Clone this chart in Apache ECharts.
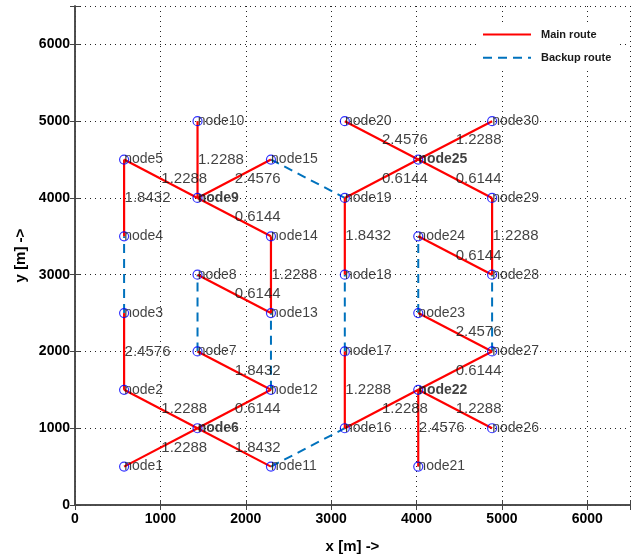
<!DOCTYPE html>
<html>
<head>
<meta charset="utf-8">
<script src="https://cdn.jsdelivr.net/npm/echarts@6/dist/echarts.min.js"></script>
<style>
  html, body { margin: 0; padding: 0; background: #fff; }
  #chart { width: 636px; height: 559px; }
</style>
</head>
<body>
<div id="chart"></div>
<script>
// node positions [m]
const nodeNames = [
    "node1", "node2", "node3", "node4", "node5",
    "node6", "node7", "node8", "node9", "node10",
    "node11", "node12", "node13", "node14", "node15",
    "node16", "node17", "node18", "node19", "node20",
    "node21", "node22", "node23", "node24", "node25",
    "node26", "node27", "node28", "node29", "node30"
];
const nodeX = [
    575, 575, 575, 575, 575,
    1435, 1435, 1435, 1435, 1435,
    2295, 2295, 2295, 2295, 2295,
    3160, 3160, 3160, 3160, 3160,
    4020, 4020, 4020, 4020, 4020,
    4885, 4885, 4885, 4885, 4885
];
const nodeY = [
    500, 1500, 2500, 3500, 4500,
    1000, 2000, 3000, 4000, 5000,
    500, 1500, 2500, 3500, 4500,
    1000, 2000, 3000, 4000, 5000,
    500, 1500, 2500, 3500, 4500,
    1000, 2000, 3000, 4000, 5000
];
const boldNodes = ["node6", "node9", "node22", "node25"];

// main route edges (node numbers) and their weights
const mainFrom = [1, 6, 2, 6, 2, 4, 5, 9, 9, 9, 14, 8, 7, 16, 18, 19, 20, 25, 25, 29, 24, 23, 27, 22, 22, 22];
const mainTo = [6, 12, 6, 11, 3, 5, 9, 10, 15, 14, 13, 13, 12, 17, 19, 25, 25, 30, 29, 28, 28, 27, 22, 16, 21, 26];
const mainWeight = [
    "1.2288", "0.6144", "1.2288", "1.8432", "2.4576", "1.8432", "1.2288", "1.2288", "2.4576", "0.6144",
    "1.2288", "0.6144", "1.8432", "1.2288", "1.8432", "0.6144", "2.4576", "1.2288", "0.6144", "1.2288",
    "0.6144", "2.4576", "0.6144", "1.2288", "2.4576", "1.2288"
];

// backup route edges
const backupFrom = [3, 7, 12, 11, 15, 17, 23, 27];
const backupTo = [4, 8, 13, 16, 19, 18, 24, 28];

const xTicks = [0, 1000, 2000, 3000, 4000, 5000, 6000];

const pt = (n) => [nodeX[n - 1], nodeY[n - 1]];

const chart = echarts.init(document.getElementById("chart"));

let series = [];
// backup route segments
backupFrom.forEach((a, i) => {
    series.push({
        name: "Backup route",
        type: "line",
        data: [pt(a), pt(backupTo[i])],
        symbol: "none",
        z: 2,
        lineStyle: { color: "#0072bd", width: 2, type: [9, 6] },
        itemStyle: { color: "#0072bd" }
    });
});
// main route segments
mainFrom.forEach((a, i) => {
    series.push({
        name: "Main route",
        type: "line",
        data: [pt(a), pt(mainTo[i])],
        symbol: "none",
        z: 3,
        lineStyle: { color: "#ff0000", width: 2.2 },
        itemStyle: { color: "#ff0000" }
    });
});
// weight labels at edge midpoints
series.push({
    type: "scatter",
    z: 5,
    symbolSize: 1,
    itemStyle: { color: "rgba(0,0,0,0)" },
    silent: true,
    data: mainFrom.map((a, i) => {
        const p = pt(a), q = pt(mainTo[i]);
        return { value: [(p[0] + q[0]) / 2, (p[1] + q[1]) / 2], w: mainWeight[i] };
    }),
    label: {
        show: true,
        position: "right",
        distance: 0,
        formatter: (d) => d.data.w,
        color: "#111",
        fontFamily: "Liberation Sans, Arial, sans-serif",
        fontSize: 15
    }
});
// nodes
series.push({
    type: "scatter",
    z: 6,
    symbol: "circle",
    symbolSize: 9,
    itemStyle: { color: "rgba(0,0,0,0)", borderColor: "#0000ff", borderWidth: 1.2 },
    data: nodeNames.map((n, i) => ({
        value: [nodeX[i], nodeY[i]],
        name: n,
        label: boldNodes.includes(n) ? { fontWeight: "bold" } : {}
    })),
    label: {
        show: true,
        position: "right",
        distance: -5,
        formatter: "{b}",
        color: "#111",
        fontFamily: "Liberation Sans, Arial, sans-serif",
        fontSize: 14
    }
});

const boxAxis = { show: true, lineStyle: { color: "#444", width: 1.5 } };
const tickFont = {
    color: "#000",
    fontWeight: "bold",
    fontFamily: "Liberation Sans, Arial, sans-serif",
    fontSize: 14
};
const nameFont = Object.assign({}, tickFont, { fontSize: 15 });

const option = {
    animation: false,
    grid: { left: 75, right: 6, top: 6, bottom: 47 },
    legend: {
        data: ["Main route", "Backup route"],
        orient: "vertical",
        left: 478,
        top: 24,
        padding: [5, 5, 5, 4],
        itemWidth: 48,
        itemHeight: 14,
        itemGap: 12,
        backgroundColor: "#fff",
        itemStyle: { color: "rgba(0,0,0,0)", borderWidth: 0 },
        textStyle: {
            color: "#1a1a1a",
            fontWeight: "bold",
            fontSize: 11,
            fontFamily: "Liberation Sans, Arial, sans-serif",
            padding: [0, 0, 0, 5]
        }
    },
    xAxis: [
        {
            type: "value",
            min: 0,
            max: 6500,
            interval: 1000,
            name: "x [m] ->",
            nameLocation: "middle",
            nameGap: 34,
            nameTextStyle: nameFont,
            axisLine: boxAxis,
            axisTick: { show: true, inside: true, length: 5, lineStyle: { color: "#444" } },
            axisLabel: Object.assign({ margin: 7, formatter: (v) => (xTicks.includes(v) ? v : "") }, tickFont),
            splitLine: { show: true, lineStyle: { color: "#222", width: 1, type: [1, 4] } }
        },
        {
            type: "value",
            position: "top",
            min: 0,
            max: 6500,
            interval: 1000,
            axisLine: boxAxis,
            axisTick: { show: true, inside: true, length: 5, lineStyle: { color: "#444" } },
            axisLabel: { show: false },
            splitLine: { show: false }
        }
    ],
    yAxis: [
        {
            type: "value",
            min: 0,
            max: 6500,
            interval: 1000,
            name: "y [m] ->",
            nameLocation: "middle",
            nameGap: 44,
            nameTextStyle: nameFont,
            axisLine: boxAxis,
            axisTick: { show: true, inside: true, length: 5, lineStyle: { color: "#444" } },
            axisLabel: Object.assign({ margin: 5, formatter: (v) => (xTicks.includes(v) ? v : "") }, tickFont),
            splitLine: { show: true, lineStyle: { color: "#222", width: 1, type: [1, 4] } }
        },
        {
            type: "value",
            position: "right",
            min: 0,
            max: 6500,
            interval: 1000,
            axisLine: boxAxis,
            axisTick: { show: true, inside: true, length: 5, lineStyle: { color: "#444" } },
            axisLabel: { show: false },
            splitLine: { show: false }
        }
    ],
    series: series
};

chart.setOption(option);
</script>
</body>
</html>
